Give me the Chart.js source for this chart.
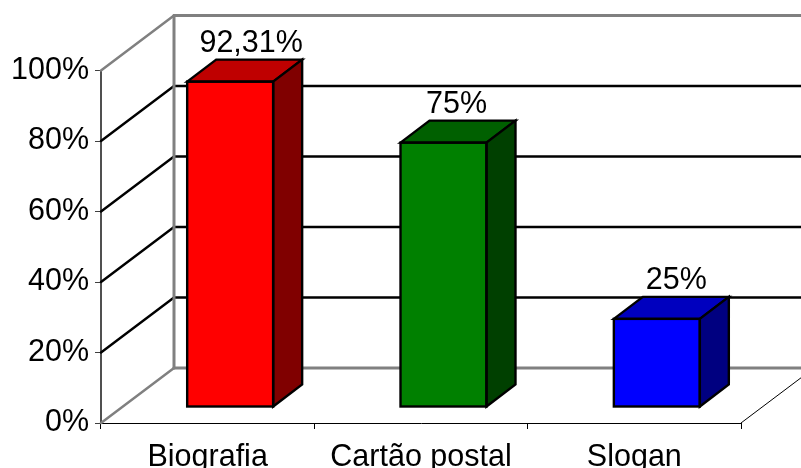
<!DOCTYPE html>
<html>
<head>
<meta charset="utf-8">
<title>Chart</title>
<style>
  html, body { margin: 0; padding: 0; background: #fff; overflow: hidden; }
  #box { width: 801px; height: 468px; }
</style>
<script src="https://cdn.jsdelivr.net/npm/chart.js@4"></script>
</head>
<body>
<div id="box"><canvas id="myChart" width="801" height="468"></canvas></div>
<script>
const categories = ['Biografia', 'Cartão postal', 'Slogan'];
const values = [92.31, 75, 25];
const frontColors = ['#ff0000', '#008000', '#0000ff'];
const topColors = ['#bf0000', '#006000', '#0000bf'];
const sideColors = ['#800000', '#004000', '#000080'];
const yTicks = [0, 20, 40, 60, 80, 100];

// fake 3d: depth of the room and of the bars, in pixels
const roomDx = 73, roomDy = 55;
const barShiftX = 22.5, barShiftY = 16;
const barDx = 29, barDy = 22;
// Excel does not centre the data labels the same way on each bar
const labelNudge = [21, 13, 19.5];
const fontName = '"Liberation Sans", Arial, sans-serif';
const fontSize = 30.5;

function line(ctx, x1, y1, x2, y2) {
  ctx.beginPath();
  ctx.moveTo(x1, y1);
  ctx.lineTo(x2, y2);
  ctx.stroke();
}

function face(ctx, pts, color) {
  ctx.beginPath();
  pts.forEach((p, i) => i ? ctx.lineTo(p[0], p[1]) : ctx.moveTo(p[0], p[1]));
  ctx.closePath();
  ctx.fillStyle = color;
  ctx.fill();
  ctx.stroke();
}

const room3d = {
  id: 'room3d',
  beforeDatasetsDraw(chart) {
    const ctx = chart.ctx, x = chart.scales.x, y = chart.scales.y;
    const left = x.left, backX = left + roomDx, right = chart.width + 20;
    ctx.save();
    ctx.lineCap = 'round';

    // black gridlines, side wall then back wall
    ctx.strokeStyle = '#000';
    ctx.lineWidth = 2.4;
    yTicks.slice(1, -1).forEach((t) => {
      const py = y.getPixelForValue(t);
      line(ctx, left, py, backX, py - roomDy);
      line(ctx, backX, py - roomDy, right, py - roomDy);
    });

    // grey outline of the walls
    const y0 = y.getPixelForValue(0), y100 = y.getPixelForValue(100);
    ctx.strokeStyle = '#808080';
    ctx.lineWidth = 3;
    line(ctx, backX, y100 - roomDy, backX, y0 - roomDy);
    line(ctx, backX, y100 - roomDy, right, y100 - roomDy);
    line(ctx, backX, y0 - roomDy, right, y0 - roomDy);
    ctx.lineWidth = 2.5;
    line(ctx, left, y100, backX, y100 - roomDy);
    line(ctx, left, y0, backX, y0 - roomDy);

    // right edge of the floor
    ctx.strokeStyle = '#000';
    ctx.lineWidth = 1;
    line(ctx, x.right, y0, x.right + roomDx, y0 - roomDy);
    ctx.restore();

    // the bars are drawn by the library, moved back onto the floor
    ctx.save();
    ctx.translate(barShiftX, -barShiftY);
  },
  afterDatasetsDraw(chart) {
    const ctx = chart.ctx;
    ctx.strokeStyle = '#000';
    ctx.lineWidth = 2.4;
    ctx.lineJoin = 'miter';
    chart.getDatasetMeta(0).data.forEach((bar, i) => {
      const l = bar.x - bar.width / 2, r = bar.x + bar.width / 2;
      const t = bar.y, b = bar.base;
      face(ctx, [[l, t], [l + barDx, t - barDy], [r + barDx, t - barDy], [r, t]], topColors[i]);
      face(ctx, [[r, t], [r + barDx, t - barDy], [r + barDx, b - barDy], [r, b]], sideColors[i]);
      ctx.strokeRect(l, t, r - l, b - t);
    });
    ctx.restore();

    // data labels
    ctx.save();
    ctx.font = fontSize + 'px ' + fontName;
    ctx.fillStyle = '#000';
    ctx.textAlign = 'center';
    ctx.textBaseline = 'alphabetic';
    chart.getDatasetMeta(0).data.forEach((bar, i) => {
      const text = String(values[i]).replace('.', ',') + '%';
      ctx.fillText(text, bar.x + barShiftX + labelNudge[i], bar.y - barShiftY - barDy - 7.5);
    });
    ctx.restore();
  }
};

new Chart(document.getElementById('myChart').getContext('2d'), {
  type: 'bar',
  data: {
    labels: categories,
    datasets: [{
      data: values,
      backgroundColor: frontColors,
      borderWidth: 0,
      barPercentage: 0.403,
      categoryPercentage: 1,
      clip: false
    }]
  },
  plugins: [room3d],
  options: {
    responsive: false,
    animation: false,
    devicePixelRatio: 1,
    layout: { padding: { top: 70.5, right: 60, left: 0, bottom: 0 } },
    plugins: { legend: { display: false }, tooltip: { enabled: false } },
    scales: {
      x: {
        afterFit(scale) { scale.height = 45; },
        border: { color: '#000', width: 1 },
        grid: { drawOnChartArea: false, color: '#000', tickLength: 6 },
        ticks: { color: '#000', padding: 10, maxRotation: 0, font: { family: fontName, size: fontSize } }
      },
      y: {
        min: 0,
        max: 100,
        afterFit(scale) { scale.width = 101; },
        afterBuildTicks(scale) { scale.ticks = yTicks.map((v) => ({ value: v })); },
        border: { color: '#505050', width: 2 },
        grid: { drawOnChartArea: false, color: '#404040', tickLength: 6 },
        ticks: { color: '#000', padding: 6, font: { family: fontName, size: fontSize }, callback: (v) => v + '%' }
      }
    }
  }
});
</script>
</body>
</html>
